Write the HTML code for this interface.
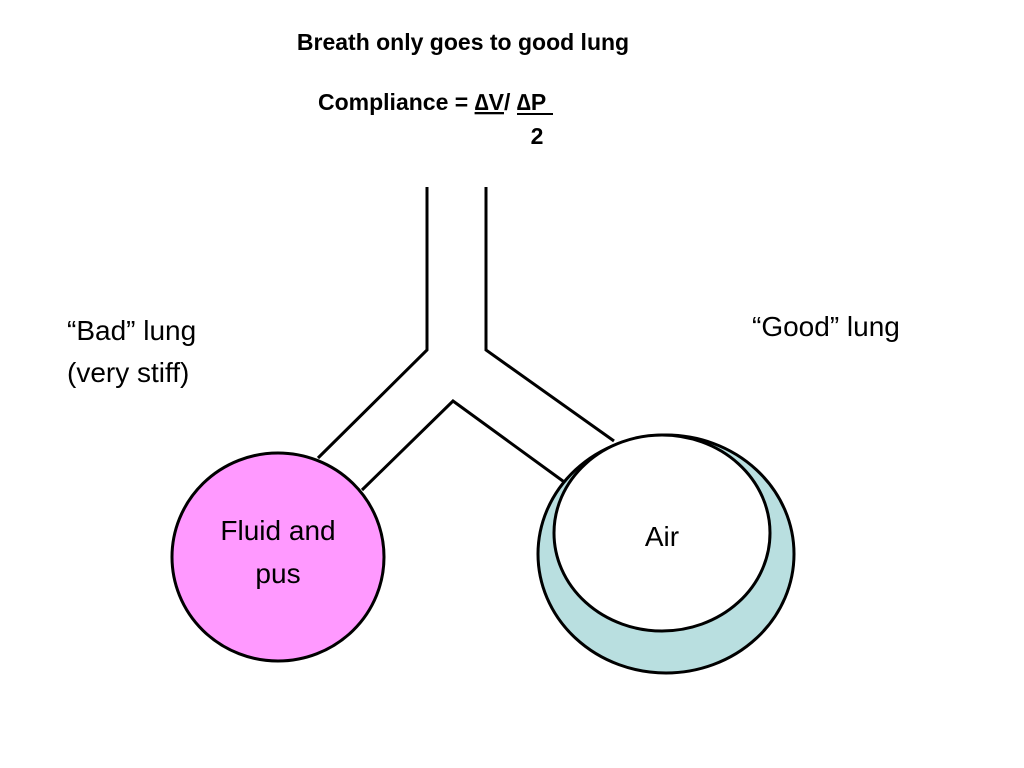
<!DOCTYPE html>
<html><head><meta charset="utf-8"><style>
html,body{margin:0;padding:0;background:#fff;}
svg{display:block;}
</style></head><body>
<svg width="1024" height="768" viewBox="0 0 1024 768" xmlns="http://www.w3.org/2000/svg" font-family="Liberation Sans, Arial, sans-serif">
<rect width="1024" height="768" fill="#fff"/>
<text x="463" y="50" font-size="23" font-weight="bold" text-anchor="middle">Breath only goes to good lung</text>
<text x="318" y="110" font-size="23" font-weight="bold">Compliance =  <tspan text-decoration="underline">∆V</tspan>/ ∆P</text>
<line x1="517" y1="114" x2="553" y2="114" stroke="#000" stroke-width="2"/>
<text x="537" y="144" font-size="23" font-weight="bold" text-anchor="middle">2</text>
<g stroke="#000" stroke-width="3" fill="none">
<polyline points="427,187 427,350 318,458"/>
<polyline points="486,187 486,350 614,441"/>
<polyline points="362,490 453,401 567,484"/>
</g>
<ellipse cx="278" cy="557" rx="106" ry="104" fill="#ff99ff" stroke="#000" stroke-width="3"/>
<ellipse cx="666" cy="554" rx="128" ry="119" fill="#b9dfe0" stroke="#000" stroke-width="3"/>
<ellipse cx="662" cy="533" rx="108" ry="98" fill="#fff" stroke="#000" stroke-width="3"/>
<text x="67" y="340" font-size="28">“Bad” lung</text>
<text x="67" y="382" font-size="28">(very stiff)</text>
<text x="752" y="336" font-size="28">“Good” lung</text>
<text x="278" y="540" font-size="28" text-anchor="middle">Fluid and</text>
<text x="278" y="583" font-size="28" text-anchor="middle">pus</text>
<text x="662" y="546" font-size="28" text-anchor="middle">Air</text>
</svg>
</body></html>
